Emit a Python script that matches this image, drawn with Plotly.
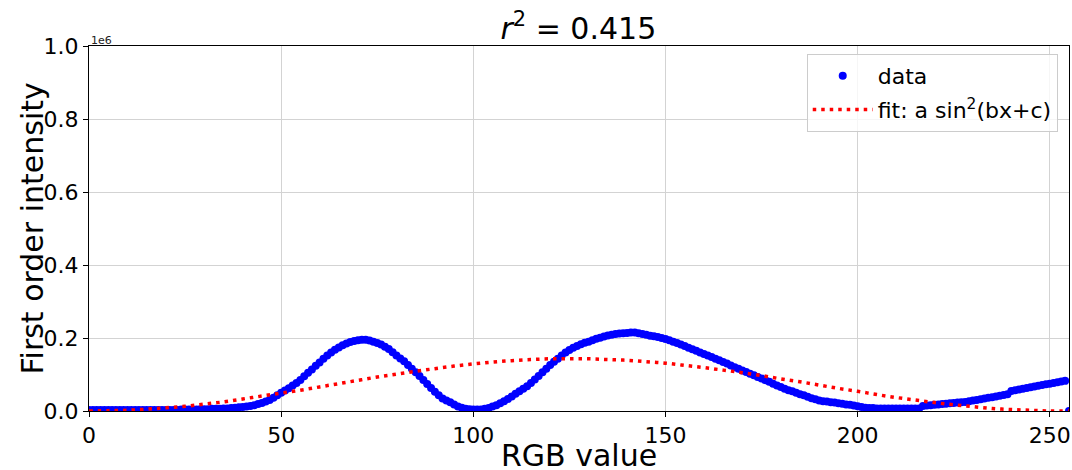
import plotly.graph_objects as go

# RGB values (x) 0..255
rgb = list(range(256))

# First order intensity (units of 1e6)
intensity = [
    0.003, 0.003, 0.003, 0.003, 0.003, 0.003, 0.003, 0.003, 0.003, 0.003,
    0.003, 0.003, 0.003, 0.003, 0.003, 0.003, 0.003, 0.003, 0.003, 0.003,
    0.003, 0.003, 0.003, 0.003, 0.004, 0.004, 0.004, 0.004, 0.004, 0.005,
    0.005, 0.005, 0.006, 0.006, 0.006, 0.007, 0.007, 0.008, 0.009, 0.010,
    0.011, 0.012, 0.014, 0.016, 0.019, 0.022, 0.026, 0.030, 0.036, 0.043,
    0.050, 0.056, 0.062, 0.070, 0.077, 0.085, 0.095, 0.105, 0.114, 0.124,
    0.133, 0.143, 0.152, 0.160, 0.168, 0.174, 0.180, 0.185, 0.189, 0.192,
    0.194, 0.195, 0.195, 0.193, 0.190, 0.186, 0.182, 0.176, 0.170, 0.161,
    0.152, 0.144, 0.136, 0.126, 0.116, 0.106, 0.096, 0.085, 0.074, 0.063,
    0.053, 0.043, 0.034, 0.029, 0.024, 0.018, 0.012, 0.009, 0.006, 0.005,
    0.004, 0.004, 0.004, 0.006, 0.008, 0.012, 0.016, 0.021, 0.027, 0.033,
    0.040, 0.047, 0.054, 0.061, 0.068, 0.077, 0.086, 0.096, 0.106, 0.116,
    0.126, 0.135, 0.143, 0.152, 0.160, 0.167, 0.173, 0.178, 0.183, 0.187,
    0.190, 0.194, 0.198, 0.201, 0.204, 0.207, 0.209, 0.211, 0.212, 0.213,
    0.214, 0.215, 0.215, 0.213, 0.211, 0.209, 0.206, 0.205, 0.203, 0.200,
    0.197, 0.194, 0.190, 0.186, 0.182, 0.178, 0.173, 0.169, 0.165, 0.160,
    0.156, 0.152, 0.148, 0.143, 0.139, 0.134, 0.130, 0.125, 0.120, 0.116,
    0.111, 0.107, 0.102, 0.098, 0.093, 0.089, 0.084, 0.080, 0.075, 0.070,
    0.066, 0.061, 0.057, 0.054, 0.050, 0.046, 0.043, 0.039, 0.035, 0.032,
    0.029, 0.027, 0.026, 0.024, 0.023, 0.021, 0.020, 0.018, 0.017, 0.015,
    0.013, 0.011, 0.009, 0.008, 0.008, 0.007, 0.007, 0.007, 0.007, 0.007,
    0.007, 0.007, 0.007, 0.007, 0.007, 0.007, 0.007, 0.014, 0.015, 0.016,
    0.017, 0.018, 0.019, 0.020, 0.021, 0.022, 0.023, 0.024, 0.025, 0.027,
    0.029, 0.030, 0.032, 0.034, 0.036, 0.038, 0.040, 0.042, 0.044, 0.046,
    0.055, 0.057, 0.059, 0.061, 0.063, 0.065, 0.067, 0.069, 0.071, 0.073,
    0.075, 0.077, 0.079, 0.081, 0.083, 0.000,
]

# Fit curve samples (units of 1e6), every 5 RGB units
fit_x = list(range(0, 256, 5))
fit_y = [
    0.000, 0.001, 0.002, 0.005, 0.009, 0.013, 0.019, 0.025, 0.033, 0.041,
    0.049, 0.057, 0.066, 0.075, 0.084, 0.093, 0.101, 0.109, 0.116, 0.123,
    0.129, 0.134, 0.138, 0.141, 0.143, 0.143, 0.143, 0.141, 0.139, 0.135,
    0.131, 0.125, 0.119, 0.112, 0.105, 0.097, 0.088, 0.080, 0.071, 0.062,
    0.054, 0.045, 0.037, 0.030, 0.023, 0.017, 0.012, 0.007, 0.004, 0.002,
    0.000, 0.000,
]

x_ticks = [0, 50, 100, 150, 200, 250]
y_ticks = [0.0, 0.2, 0.4, 0.6, 0.8, 1.0]
y_tick_labels = ["0.0", "0.2", "0.4", "0.6", "0.8", "1.0"]

FONT = "DejaVu Sans"
W, H = 1072, 470
ML, MR, MT, MB = 89, 3, 46, 59

fig = go.Figure()
fig.add_trace(go.Scatter(
    x=rgb, y=intensity, mode="markers", name="data",
    marker=dict(color="#0000ff", size=8, line=dict(width=0)),
    legendgroup="a",
))
fig.add_trace(go.Scatter(
    x=fit_x, y=fit_y, mode="lines", name="fit: a sin<sup>2</sup>(bx+c)",
    line=dict(color="#ff0000", width=3.5, dash="3.5px,5px", shape="spline"),
    legendgroup="b",
))

axis_common = dict(
    showline=True, linecolor="black", linewidth=1, mirror=True,
    ticks="outside", ticklen=5, tickwidth=1, tickcolor="black",
    showgrid=True, gridcolor="#d3d3d3", gridwidth=1,
    zeroline=False, automargin=False,
    tickfont=dict(family=FONT, size=22, color="black"),
)

fig.update_layout(
    width=W, height=H,
    margin=dict(l=ML, r=MR, t=MT, b=MB, autoexpand=False),
    paper_bgcolor="white", plot_bgcolor="white",
    font=dict(family=FONT, color="black"),
    title=dict(
        text="<i>r</i><sup>2</sup> = 0.415",
        x=0.5395, xanchor="center", y=1 - 28 / H, yanchor="middle",
        font=dict(family=FONT, size=30, color="black"),
    ),
    xaxis=dict(range=[0, 255], tickvals=x_ticks, **axis_common),
    yaxis=dict(range=[0, 1.0], tickvals=y_ticks, ticktext=y_tick_labels, **axis_common),
    legend=dict(
        x=0.9885, xanchor="right", y=0.978, yanchor="top",
        bgcolor="rgba(255,255,255,0.8)", bordercolor="#cccccc", borderwidth=1,
        font=dict(family=FONT, size=22, color="black"),
        traceorder="grouped", tracegroupgap=2, itemwidth=60,
    ),
    showlegend=True,
)

# axis titles
fig.add_annotation(
    text="RGB value", xref="paper", yref="paper", x=0.5, y=0,
    xanchor="center", yanchor="middle", yshift=-(455 - (H - MB)),
    showarrow=False, font=dict(family=FONT, size=30, color="black"),
)
fig.add_annotation(
    text="First order intensity", xref="paper", yref="paper", x=0, y=0.5,
    xanchor="center", yanchor="middle", xshift=-(ML - 32), textangle=-90,
    showarrow=False, font=dict(family=FONT, size=30, color="black"),
)
fig.add_annotation(
    text="1e6", xref="paper", yref="paper", x=0, y=1, xanchor="left", yanchor="bottom",
    yshift=-3, showarrow=False, font=dict(family=FONT, size=11, color="#222222"),
)

fig.write_html("out.html")
